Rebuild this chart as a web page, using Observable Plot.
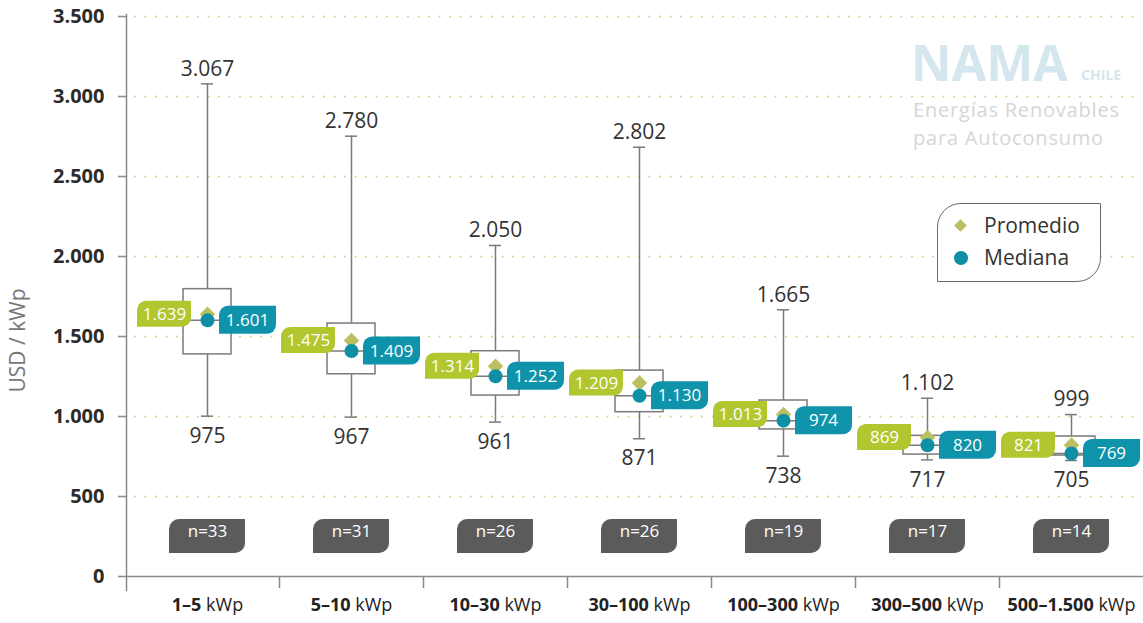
<!DOCTYPE html>
<html>
<head>
<meta charset="utf-8">
<script src="https://cdn.jsdelivr.net/npm/d3@7"></script>
<script src="https://cdn.jsdelivr.net/npm/@observablehq/plot@0.6"></script>
<style>
  body { margin: 0; background: #fff; font-family: "Open Sans", sans-serif; }
  #wrap { position: relative; width: 1143px; height: 623px; overflow: hidden; }
  .ov { position: absolute; white-space: nowrap; font-family: "Open Sans", sans-serif; }
  #legend { position: absolute; left: 937px; top: 203px; width: 162px; height: 77px;
            border: 1.5px solid #6b6b6b; border-radius: 24px 0 24px 0; background: #fff; }
  .sym { position: absolute; }
</style>
</head>
<body>
<div id="wrap">
  <div class="ov" style="left:911px;top:37px;font-size:50px;line-height:50px;font-weight:700;color:#d4e6ee;">NAMA</div>
  <div class="ov" style="left:1081px;top:68px;font-size:14px;line-height:14px;font-weight:700;color:#d4e6ee;">CHILE</div>
  <div class="ov" style="left:913px;top:96px;font-size:20px;line-height:28px;color:#d6d6d6;letter-spacing:0.8px;">Energías Renovables<br>para Autoconsumo</div>
  <div id="legend"></div>
</div>
<script>
// ---- data ----
const categories = ["1–5", "5–10", "10–30", "30–100", "100–300", "300–500", "500–1.500"];
const unitLabel = "kWp";
const nCounts   = [33, 31, 26, 26, 19, 17, 14];
const means     = [1639, 1475, 1314, 1209, 1013, 869, 821];
const medians   = [1601, 1409, 1252, 1130, 974, 820, 769];
const q1        = [1388, 1264, 1131, 1027, 919, 762, 756];
const q3        = [1796, 1581, 1408, 1287, 1100, 879, 875];
const whiskerHigh = [3079, 2752, 2069, 2683, 1667, 1114, 1012];
const whiskerLow  = [1002, 996, 965, 861, 752, 729, 725];
const maxLabels = [3067, 2780, 2050, 2802, 1665, 1102, 999];
const minLabels = [975, 967, 961, 871, 738, 717, 705];
const yTicks = [0, 500, 1000, 1500, 2000, 2500, 3000, 3500];
const legendItems = ["Promedio", "Mediana"];
const yTitle = "USD / kWp";

const locale = d3.formatLocale({decimal: ",", thousands: ".", grouping: [3], currency: ["", ""]});
const fmt = locale.format(",d");

const rows = categories.map((cat, i) => ({
  cat, n: nCounts[i], mean: means[i], median: medians[i], q1: q1[i], q3: q3[i],
  hi: whiskerHigh[i], lo: whiskerLow[i], maxLabel: maxLabels[i], minLabel: minLabels[i]
}));

const GREEN = "#b2c62f", TEAL = "#0e93aa", DIAMOND = "#bcbf60", DOT = "#0e8fa3";
const BOX = "#7a7a7a", AXIS = "#8a8a8a", BADGE = "#5b5b5b";

const chart = Plot.plot({
  width: 1143, height: 623,
  marginLeft: 126, marginRight: 0, marginTop: 16, marginBottom: 47,
  style: {fontFamily: "Open Sans", background: "white"},
  x: {type: "band", domain: categories, padding: 0, insetLeft: 9, label: null},
  y: {domain: [0, 3500], label: null},
  marks: [
    Plot.ruleY(yTicks.filter(d => d > 0), {stroke: "#cad77f", strokeWidth: 2.2, strokeDasharray: "0 10.5", strokeLinecap: "round", insetLeft: 9}),
    Plot.axisY(yTicks, {tickSize: 8, tickPadding: 14, tickFormat: fmt, fontSize: 20, fontWeight: "bold", fill: "#2b2b2b", stroke: AXIS, strokeWidth: 1.5, label: null}),
    Plot.frame({anchor: "left", stroke: AXIS, strokeWidth: 1.5, insetBottom: -14, insetTop: -2}),
    Plot.ruleY([0], {stroke: AXIS, strokeWidth: 1.5}),
    Plot.ruleX(categories.slice(1), {x: d => d, dx: -72, y1: 0, y2: 0, insetBottom: -12, stroke: AXIS, strokeWidth: 1.5}),
    Plot.axisX({tickSize: 0, tickPadding: 22, fontSize: 18, fill: "#222", label: null}),
    Plot.text([yTitle], {frameAnchor: "left", textAnchor: "middle", rotate: -90, dx: -108, dy: 44, fontSize: 21, fill: "#777"}),
    // whiskers
    Plot.ruleX(rows, {x: "cat", y1: "lo", y2: "hi", stroke: BOX, strokeWidth: 1.5}),
    Plot.tickY(rows, {x: "cat", y: "hi", insetLeft: 66, insetRight: 66, stroke: BOX, strokeWidth: 1.5}),
    Plot.tickY(rows, {x: "cat", y: "lo", insetLeft: 66, insetRight: 66, stroke: BOX, strokeWidth: 1.5}),
    // box
    Plot.barY(rows, {x: "cat", y1: "q1", y2: "q3", fill: "white", stroke: BOX, strokeWidth: 1.5, insetLeft: 48, insetRight: 48}),
    Plot.tickY(rows, {x: "cat", y: "median", insetLeft: 48, insetRight: 48, stroke: BOX, strokeWidth: 1.5}),
    // max / min labels
    Plot.text(rows, {x: "cat", y: "hi", text: d => fmt(d.maxLabel), dy: -15, fontSize: 21, fill: "#333"}),
    Plot.text(rows, {x: "cat", y: "lo", text: d => fmt(d.minLabel), dy: 20, fontSize: 21, fill: "#333"}),
    // mean / median labels
    Plot.barY(rows, {x: "cat", y1: "mean", y2: "mean", insetLeft: 2, insetRight: 88, insetTop: -13, insetBottom: -13, fill: GREEN, rx1y1: 9, rx2y2: 9}),
    Plot.text(rows, {x: "cat", y: "mean", text: d => fmt(d.mean), dx: -43, fontSize: 17, fill: "white"}),
    Plot.barY(rows, {x: "cat", y1: "median", y2: "median", insetLeft: 84, insetRight: 3, insetTop: -14, insetBottom: -14, fill: TEAL, rx1y1: 9, rx2y2: 9}),
    Plot.text(rows, {x: "cat", y: "median", text: d => fmt(d.median), dx: 40, fontSize: 17, fill: "white"}),
    Plot.dot(rows, {x: "cat", y: "mean", symbol: "diamond2", r: 7, fill: DIAMOND, stroke: "none"}),
    Plot.dot(rows, {x: "cat", y: "median", r: 7, fill: DOT, stroke: "none"}),
    // n badges
    Plot.barY(rows, {x: "cat", y1: 0, y2: 0, insetLeft: 34, insetRight: 34, insetTop: -57, insetBottom: 23, fill: BADGE, rx1y1: 10, rx2y2: 10}),
    Plot.text(rows, {x: "cat", frameAnchor: "bottom", dy: -40, text: d => "n=" + d.n, fontSize: 17, fill: "white"})
  ]
});

// bold range + regular unit in x tick labels
chart.querySelectorAll('g[aria-label="x-axis tick label"] text').forEach(t => {
  const v = t.textContent;
  t.textContent = "";
  const ns = "http://www.w3.org/2000/svg";
  const a = document.createElementNS(ns, "tspan");
  a.setAttribute("font-weight", "bold");
  a.textContent = v;
  const b = document.createElementNS(ns, "tspan");
  b.setAttribute("font-weight", "normal");
  b.textContent = " " + unitLabel;
  t.appendChild(a); t.appendChild(b);
});

const wrap = document.getElementById("wrap");
wrap.insertBefore(chart, wrap.firstChild);

// legend
const legend = document.getElementById("legend");
legendItems.forEach((name, i) => {
  const top = i * 32;
  const sym = document.createElement("div");
  sym.className = "sym";
  if (i === 0) {
    Object.assign(sym.style, {left: "18px", top: (top + 17) + "px", width: "9px", height: "9px", background: DIAMOND, transform: "rotate(45deg)"});
  } else {
    Object.assign(sym.style, {left: "16px", top: (top + 15) + "px", width: "14px", height: "14px", background: DOT, borderRadius: "50%"});
  }
  legend.appendChild(sym);
  const lab = document.createElement("div");
  lab.className = "ov";
  Object.assign(lab.style, {left: "46px", top: (top + 11) + "px", fontSize: "21px", lineHeight: "21px", color: "#333"});
  lab.textContent = name;
  legend.appendChild(lab);
});
</script>
</body>
</html>
